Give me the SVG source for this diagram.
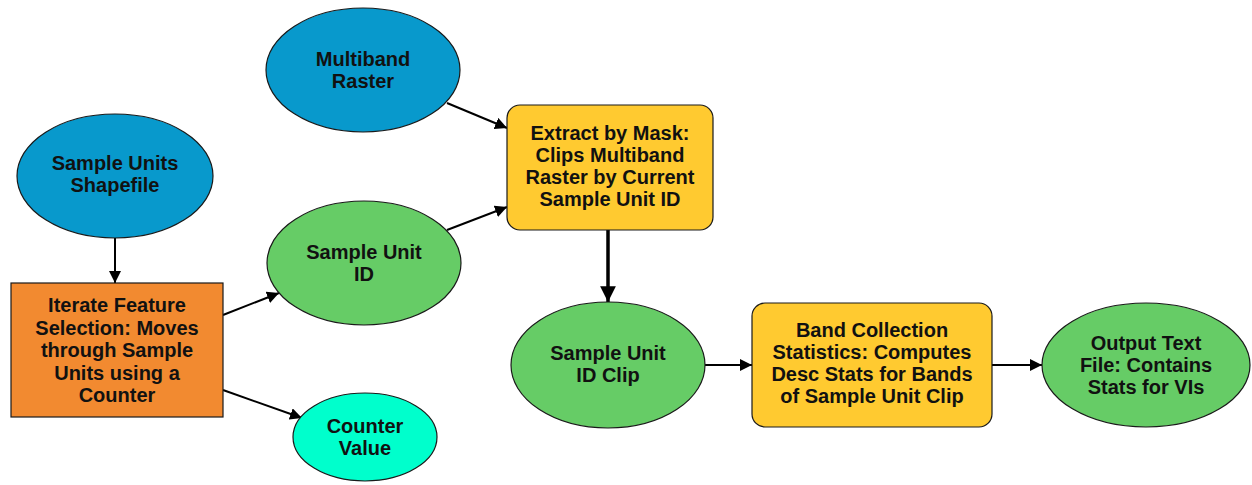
<svg xmlns="http://www.w3.org/2000/svg" width="1252" height="485" viewBox="0 0 1252 485">
  <style>
    .node { stroke: #1a1a1a; stroke-width: 1.2; }
    .input { fill: #0899CC; }
    .derived { fill: #66CC66; }
    .tool { fill: #FFCA30; }
    .iter { fill: #F28A30; }
    .value { fill: #00FFCC; }
    .label { font-family: "Liberation Sans", Arial, sans-serif; font-weight: bold; font-size: 20px; fill: #111; text-anchor: middle; }
    .edge { stroke: #000; stroke-width: 2; fill: none; marker-end: url(#arrow); }
    .edge-thick { stroke: #000; stroke-width: 3.5; fill: none; marker-end: url(#arrowBig); }
  </style>
  <defs>
    <marker id="arrow" viewBox="0 0 10 10" refX="10" refY="5" markerWidth="6" markerHeight="6" markerUnits="strokeWidth" orient="auto">
      <path d="M0,0 L10,5 L0,10 Z" fill="#000"/>
    </marker>
    <marker id="arrowBig" viewBox="0 0 10 10" refX="10" refY="5" markerWidth="4.5" markerHeight="4.5" markerUnits="strokeWidth" orient="auto">
      <path d="M0,0 L10,5 L0,10 Z" fill="#000"/>
    </marker>
  </defs>

  <rect width="1252" height="485" fill="#ffffff"/>

  <!-- connectors -->
  <g id="connectors">
    <line class="edge" x1="115" y1="238" x2="115" y2="283"/>
    <line class="edge" x1="223" y1="315" x2="279" y2="293"/>
    <line class="edge" x1="223" y1="390" x2="302" y2="418"/>
    <line class="edge" x1="447" y1="103" x2="507" y2="128"/>
    <line class="edge" x1="447" y1="230" x2="507" y2="207"/>
    <line class="edge-thick" x1="608" y1="230" x2="608" y2="302"/>
    <line class="edge" x1="705" y1="365" x2="752" y2="365"/>
    <line class="edge" x1="992" y1="365" x2="1042" y2="365"/>
  </g>

  <g id="sample-units-shapefile">
    <ellipse class="node input" cx="115" cy="176" rx="98" ry="62"/>
    <text class="label" x="115" y="170">Sample Units</text>
    <text class="label" x="115" y="192">Shapefile</text>
  </g>

  <g id="iterate-feature-selection">
    <rect class="node iter" x="11" y="283" width="212" height="134"/>
    <text class="label" x="117" y="312">Iterate Feature</text>
    <text class="label" x="117" y="335">Selection: Moves</text>
    <text class="label" x="117" y="357">through Sample</text>
    <text class="label" x="117" y="380">Units using a</text>
    <text class="label" x="117" y="402">Counter</text>
  </g>

  <g id="multiband-raster">
    <ellipse class="node input" cx="363" cy="70" rx="97" ry="62"/>
    <text class="label" x="363" y="66">Multiband</text>
    <text class="label" x="363" y="88">Raster</text>
  </g>

  <g id="sample-unit-id">
    <ellipse class="node derived" cx="364" cy="263" rx="97" ry="62"/>
    <text class="label" x="364" y="259">Sample Unit</text>
    <text class="label" x="364" y="281">ID</text>
  </g>

  <g id="counter-value">
    <ellipse class="node value" cx="365" cy="437" rx="72" ry="44"/>
    <text class="label" x="365" y="433">Counter</text>
    <text class="label" x="365" y="455">Value</text>
  </g>

  <g id="extract-by-mask">
    <rect class="node tool" x="507" y="105" width="206" height="125" rx="13" ry="13"/>
    <text class="label" x="610" y="140">Extract by Mask:</text>
    <text class="label" x="610" y="162">Clips Multiband</text>
    <text class="label" x="610" y="184">Raster by Current</text>
    <text class="label" x="610" y="206">Sample Unit ID</text>
  </g>

  <g id="sample-unit-id-clip">
    <ellipse class="node derived" cx="608" cy="365" rx="97" ry="63"/>
    <text class="label" x="608" y="360">Sample Unit</text>
    <text class="label" x="608" y="382">ID Clip</text>
  </g>

  <g id="band-collection-statistics">
    <rect class="node tool" x="752" y="303" width="240" height="124" rx="13" ry="13"/>
    <text class="label" x="872" y="337">Band Collection</text>
    <text class="label" x="872" y="359">Statistics: Computes</text>
    <text class="label" x="872" y="381">Desc Stats for Bands</text>
    <text class="label" x="872" y="403">of Sample Unit Clip</text>
  </g>

  <g id="output-text-file">
    <ellipse class="node derived" cx="1146" cy="365" rx="104" ry="62"/>
    <text class="label" x="1146" y="350">Output Text</text>
    <text class="label" x="1146" y="372">File: Contains</text>
    <text class="label" x="1146" y="394">Stats for VIs</text>
  </g>
</svg>
